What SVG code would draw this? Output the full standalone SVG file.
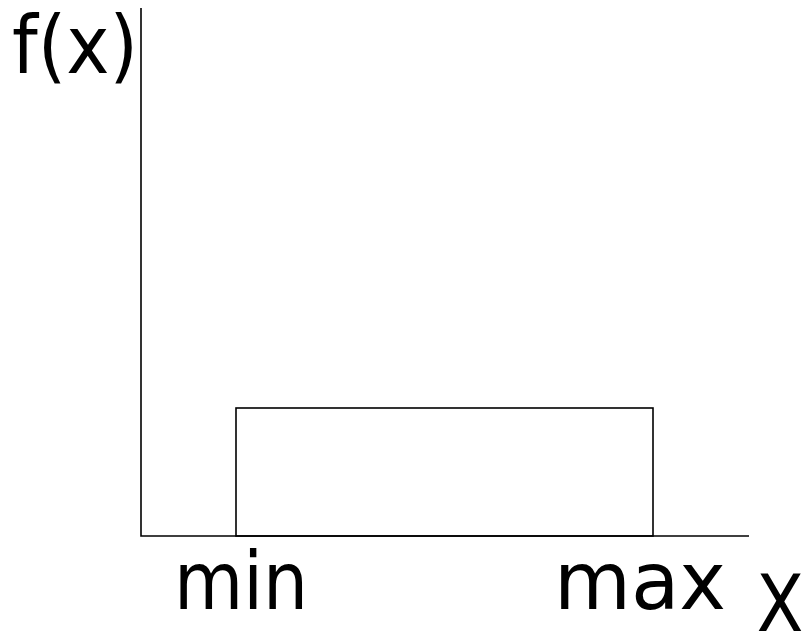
<svg xmlns="http://www.w3.org/2000/svg" width="808" height="631" viewBox="0 0 808 631">
<style>
.ln{fill:none;stroke:#000;stroke-width:1.6}
.t{font-family:"DejaVu Sans","Liberation Sans",sans-serif;font-size:80px;fill:#000}
</style>
<rect width="808" height="631" fill="#fff"/>
<g id="axes" class="connectors">
<path class="ln" d="M141,8 V536 H749"/>
</g>
<g id="box">
<rect class="ln" x="236" y="408" width="417" height="128"/>
</g>
<g id="labels">
<text class="t" x="12" y="73" textLength="126" lengthAdjust="spacingAndGlyphs">f(x)</text>
<text class="t" x="174" y="609" textLength="134" lengthAdjust="spacingAndGlyphs">min</text>
<text class="t" x="554" y="609" textLength="172" lengthAdjust="spacingAndGlyphs">max</text>
<text class="t" x="756" y="632" textLength="48" lengthAdjust="spacingAndGlyphs">X</text>
</g>
</svg>
